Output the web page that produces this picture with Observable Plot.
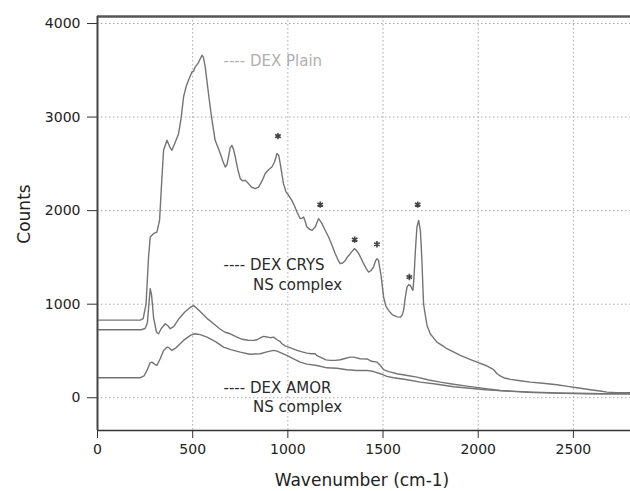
<!DOCTYPE html>
<html>
<head>
<meta charset="utf-8">
<script src="https://cdn.jsdelivr.net/npm/d3@7"></script>
<script src="https://cdn.jsdelivr.net/npm/@observablehq/plot@0.6"></script>
<style>
  html, body { margin: 0; padding: 0; background: #fff; }
  #chart { width: 630px; height: 491px; overflow: hidden; }
</style>
</head>
<body>
<div id="chart"></div>
<script>
// ---- data ----
const xTicks = [0, 500, 1000, 1500, 2000, 2500];
const yTicks = [0, 1000, 2000, 3000, 4000];

// upper curve (large spectrum with marked peaks)
const topX = [0,225,240,255,268,277,294,312,326,337,347,365,380,391,410,426,440,452,466,478,496,505,513,530,549,556,566,580,592,605,618,632,645,658,671,680,688,697,706,715,724,737,750,762,776,793,810,829,846,865,881,900,916,930,943,952,960,968,977,990,1004,1021,1035,1048,1065,1074,1083,1092,1100,1115,1127,1144,1161,1170,1179,1196,1214,1232,1249,1262,1275,1288,1302,1315,1328,1349,1360,1372,1385,1398,1412,1424,1437,1450,1460,1468,1476,1490,1503,1515,1529,1545,1555,1575,1591,1600,1608,1617,1626,1635,1643,1652,1657,1663,1669,1674,1678,1687,1696,1700,1705,1709,1713,1718,1731,1748,1765,1783,1810,1836,1870,1906,1950,1994,2040,2081,2099,2120,2134,2169,2220,2274,2340,2414,2470,2519,2589,2640,2677,2729,2800];
const topY = [830,830,845,1000,1500,1718,1754,1771,1896,2300,2645,2752,2680,2645,2740,2823,3000,3215,3330,3394,3482,3490,3536,3580,3661,3640,3536,3300,3108,2920,2752,2680,2610,2530,2466,2490,2573,2670,2698,2650,2573,2440,2342,2320,2324,2289,2250,2235,2252,2320,2396,2440,2466,2520,2610,2590,2503,2400,2289,2200,2164,2110,2050,1985,1914,1920,1931,1880,1825,1800,1789,1825,1914,1890,1861,1790,1718,1630,1540,1480,1433,1440,1468,1510,1540,1594,1575,1540,1490,1433,1380,1343,1360,1397,1460,1487,1470,1300,1076,980,934,895,880,865,862,880,934,1076,1183,1210,1201,1165,1148,1300,1540,1700,1825,1896,1789,1650,1433,1200,1000,934,773,684,640,595,560,524,490,452,415,381,345,300,257,228,214,196,182,167,155,139,122,107,86,72,60,53,53];

// middle curve (sharp spike near 280)
const midX = [0,230,250,262,270,277,284,295,310,321,335,356,370,382,400,430,460,490,505,520,550,580,610,640,670,697,730,760,790,820,838,855,872,890,908,925,943,960,969,986,1004,1025,1048,1075,1100,1125,1144,1153,1170,1200,1223,1250,1275,1300,1328,1345,1380,1416,1440,1468,1486,1503,1530,1573,1620,1678,1740,1801,1870,1941,2030,2116,2200,2291,2380,2467,2560,2642,2800];
const midY = [727,727,740,800,1000,1166,1100,850,700,684,740,791,770,738,760,850,920,970,985,960,900,840,791,740,700,684,650,625,615,613,620,640,656,650,642,648,620,600,577,555,541,525,506,490,477,470,470,450,434,405,399,400,406,420,434,434,417,415,390,381,345,300,280,257,240,220,190,167,145,124,100,78,68,60,55,49,46,43,43];

// lower curve
const lowX = [0,225,245,260,275,286,300,312,330,347,365,375,391,410,430,452,470,490,513,540,575,620,662,700,750,800,855,890,925,943,970,995,1030,1065,1100,1153,1205,1258,1310,1363,1416,1450,1486,1520,1555,1620,1696,1766,1871,1941,2040,2151,2260,2379,2500,2642,2800];
const lowY = [214,214,235,292,370,381,360,345,420,506,541,535,506,530,570,613,640,670,684,675,648,600,541,515,488,465,470,490,506,498,475,452,415,381,360,345,320,315,300,292,292,280,257,228,214,195,167,150,118,105,85,71,58,49,45,43,43];

// marked peaks (asterisks)
const starX = [948, 1170, 1351, 1468, 1638, 1682];
const starY = [2796, 2064, 1690, 1640, 1290, 2064];

const legendLines = ["---- DEX Plain", "---- DEX CRYS", "NS complex", "---- DEX AMOR", "NS complex"];

// ---- build tables ----
const toRows = (xs, ys) => xs.map((x, i) => ({x, y: ys[i]}));
const topRows = toRows(topX, topY);
const midRows = toRows(midX, midY);
const lowRows = toRows(lowX, lowY);
const starRows = toRows(starX, starY);

const curveStyle = {x: "x", y: "y", stroke: "#747474", strokeWidth: 1.4, curve: "linear"};
const gridStyle = {stroke: "#a8a8a8", strokeOpacity: 1, strokeWidth: 1, strokeDasharray: "1.5,2.5"};

const chart = Plot.plot({
  width: 630,
  height: 491,
  marginLeft: 97,
  marginRight: 0,
  marginTop: 16,
  marginBottom: 61,
  style: {fontFamily: "DejaVu Sans, Verdana, sans-serif", fontSize: "14px", background: "#fff", color: "#222"},
  x: {domain: [0, 2800], label: null},
  y: {domain: [-350, 4075], label: null},
  marks: [
    Plot.gridX(xTicks.filter(d => d > 0), gridStyle),
    Plot.gridY(yTicks, gridStyle),
    Plot.axisX(xTicks, {tickSize: 8, tickPadding: 6, tickFormat: d3.format("d"), label: null, stroke: "#333", fill: "#222"}),
    Plot.axisY(yTicks, {tickSize: 10, tickPadding: 7, tickFormat: d3.format("d"), label: null, stroke: "#333", fill: "#222"}),
    Plot.line(lowRows, curveStyle),
    Plot.line(midRows, curveStyle),
    Plot.line(topRows, curveStyle),
    Plot.dot(starRows, {x: "x", y: "y", symbol: "asterisk", r: 3, stroke: "#444", strokeWidth: 1.6}),
    // legend annotations
    Plot.text([legendLines[0]], {x: 662, y: 3595, text: d => d, textAnchor: "start", fill: "#b0b0b0", fontSize: 15}),
    Plot.text([legendLines[1]], {x: 662, y: 1416, text: d => d, textAnchor: "start", fill: "#2a2a2a", fontSize: 15}),
    Plot.text([legendLines[2]], {x: 817, y: 1202, text: d => d, textAnchor: "start", fill: "#2a2a2a", fontSize: 15}),
    Plot.text([legendLines[3]], {x: 662, y: 99, text: d => d, textAnchor: "start", fill: "#2a2a2a", fontSize: 15}),
    Plot.text([legendLines[4]], {x: 817, y: -104, text: d => d, textAnchor: "start", fill: "#2a2a2a", fontSize: 15}),
    // frame lines
    Plot.ruleY([4075], {stroke: "#555", strokeWidth: 2.5}),
    Plot.ruleY([-350], {stroke: "#333", strokeWidth: 1.5}),
    Plot.ruleX([0], {stroke: "#444", strokeWidth: 2})
  ]
});

const svg = d3.select(chart);
svg.append("text")
  .attr("transform", "translate(24,214) rotate(-90)")
  .attr("text-anchor", "middle")
  .attr("dominant-baseline", "central")
  .attr("font-size", 17)
  .attr("fill", "#222")
  .text("Counts");
svg.append("text")
  .attr("x", 362)
  .attr("y", 480)
  .attr("text-anchor", "middle")
  .attr("dominant-baseline", "central")
  .attr("font-size", 17)
  .attr("fill", "#222")
  .text("Wavenumber (cm-1)");

document.getElementById("chart").appendChild(chart);
</script>
</body>
</html>
